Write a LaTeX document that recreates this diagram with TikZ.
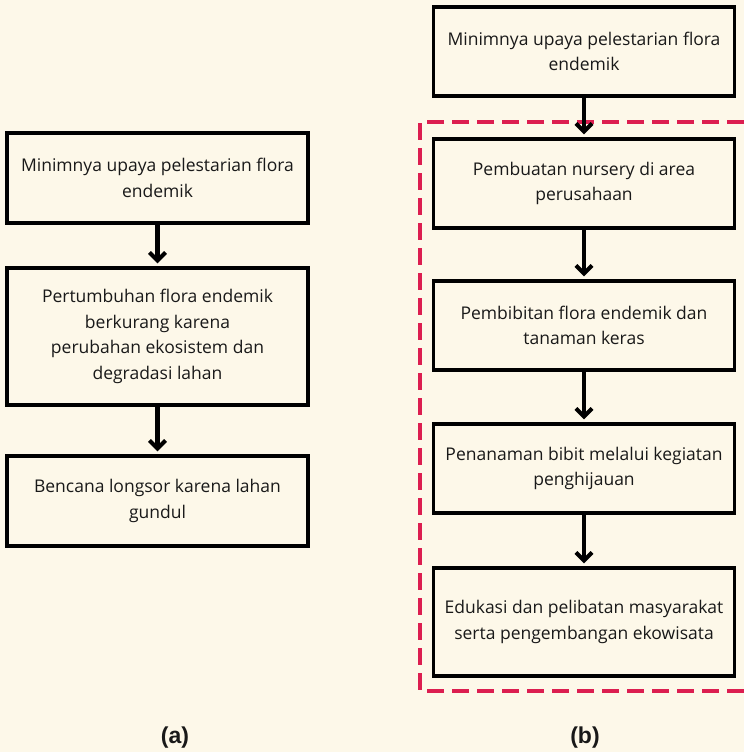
\documentclass[tikz,border=0pt]{standalone}
\usepackage{fontspec}
\setmainfont{Open Sans}
\newfontfamily\capfont{Liberation Sans}
\usepackage{tikz}
\usetikzlibrary{arrows.meta,positioning}
\definecolor{fcCream}{RGB}{253,248,233}
\definecolor{fcRed}  {RGB}{220, 30, 80}
\definecolor{fcText} {RGB}{ 25, 25, 25}

\begin{document}
\begin{tikzpicture}[
  x=1pt,y=-1pt,
  every node/.style={font=\fontsize{17.5}{25.5}\selectfont,text=fcText},
  >={Straight Barb[length=8pt,width=16pt,line width=4pt]},
  box/.style={draw=black,line width=3.4pt,fill=fcCream,
              minimum width=301pt,align=center,inner sep=0pt},
  flow/.style={->,line width=4.2pt,shorten >=3pt},
  frame/.style={draw=fcRed,line width=3.2pt,dash pattern=on 17pt off 8pt},
  sublabel/.style={font=\capfont\bfseries\fontsize{23}{26}\selectfont}
]
\fill[fcCream] (0,0) rectangle (744,752);
\useasboundingbox (0,0) rectangle (744,752);

\node[box,minimum height=90pt]  (A1) at (157.5,178)   {Minimnya upaya pelestarian flora\\endemik};
\node[box,minimum height=137pt] (A2) at (157.5,336.5) {Pertumbuhan flora endemik\\berkurang karena\\perubahan ekosistem dan\\degradasi lahan};
\node[box,minimum height=90pt]  (A3) at (157.5,501)   {Bencana longsor karena lahan\\gundul};
\node[sublabel] (labA) at (175,738) {(a)};

\coordinate (F1) at (744,122);
\coordinate (F2) at (420,122);
\coordinate (F3) at (420,691);
\coordinate (F4) at (744,691);
\draw[frame] (F1) -- (F2) -- (F3) -- (F4);

\node[box,minimum height=89pt]  (B0) at (584,51.5)  {Minimnya upaya pelestarian flora\\endemik};
\node[box,minimum height=89pt]  (B1) at (584,183.5) {Pembuatan nursery di area\\perusahaan};
\node[box,minimum height=89pt]  (B2) at (584,325.5) {Pembibitan flora endemik dan\\tanaman keras};
\node[box,minimum height=89pt]  (B3) at (584,468.5) {Penanaman bibit melalui kegiatan\\penghijauan};
\node[box,minimum height=108pt] (B4) at (584,622)   {Edukasi dan pelibatan masyarakat\\serta pengembangan ekowisata};
\node[sublabel] (labB) at (585,738) {(b)};

\draw[flow] (A1) -- (A2);
\draw[flow] (A2) -- (A3);
\draw[flow] (B0) -- (B1);
\draw[flow] (B1) -- (B2);
\draw[flow] (B2) -- (B3);
\draw[flow] (B3) -- (B4);
\end{tikzpicture}
\end{document}
